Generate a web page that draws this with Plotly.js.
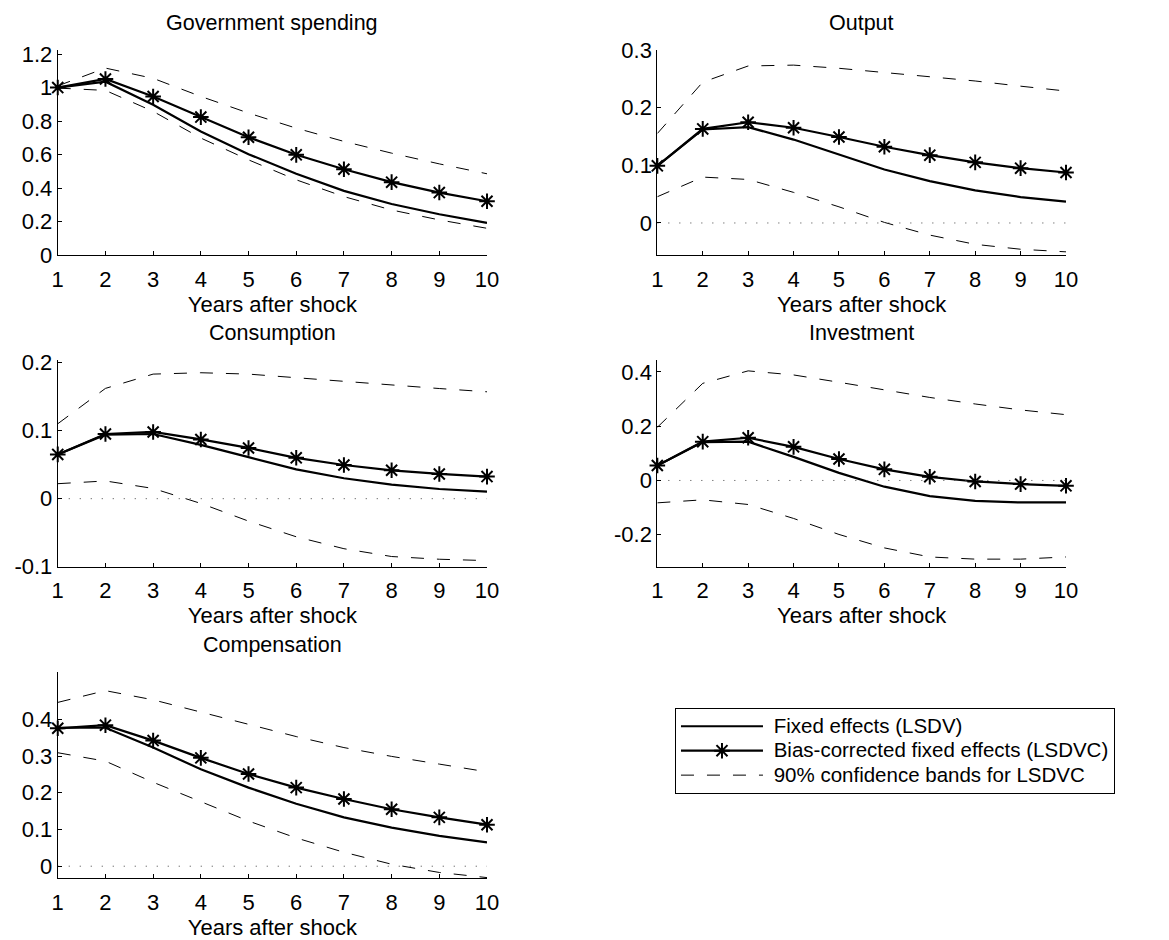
<!DOCTYPE html>
<html>
<head>
<meta charset="utf-8">
<script src="https://cdn.plot.ly/plotly-3.0.1.min.js"></script>
<style>
html,body{margin:0;padding:0;background:#fff;}
#chart{width:1169px;height:940px;}
</style>
</head>
<body>
<div id="chart"></div>
<script>
// ---- data ----
const years = [1, 2, 3, 4, 5, 6, 7, 8, 9, 10];
const panelTitles = ["Government spending", "Output", "Consumption", "Investment", "Compensation"];
const seriesNames = ["Fixed effects (LSDV)", "Bias-corrected fixed effects (LSDVC)", "90% confidence bands for LSDVC"];
const xTitle = "Years after shock";

const govLSDV  = [1.0, 1.035, 0.897, 0.738, 0.603, 0.486, 0.384, 0.306, 0.245, 0.193];
const govLSDVC = [1.0, 1.051, 0.947, 0.824, 0.704, 0.599, 0.513, 0.436, 0.374, 0.322];
const govUpper = [1.01, 1.116, 1.055, 0.947, 0.848, 0.758, 0.679, 0.609, 0.545, 0.486];
const govLower = [0.997, 0.983, 0.858, 0.699, 0.569, 0.45, 0.35, 0.27, 0.211, 0.161];

const outLSDV  = [0.099, 0.162, 0.166, 0.1445, 0.1186, 0.0927, 0.0726, 0.0564, 0.0449, 0.0369];
const outLSDVC = [0.099, 0.163, 0.1745, 0.165, 0.149, 0.132, 0.1175, 0.105, 0.095, 0.0875];
const outUpper = [0.155, 0.244, 0.272, 0.2735, 0.268, 0.261, 0.254, 0.246, 0.237, 0.2286];
const outLower = [0.0455, 0.0795, 0.0754, 0.053, 0.028, 0.001, -0.021, -0.037, -0.0455, -0.050];

const conLSDV  = [0.065, 0.094, 0.095, 0.079, 0.061, 0.043, 0.030, 0.0206, 0.0142, 0.0103];
const conLSDVC = [0.065, 0.095, 0.098, 0.087, 0.0745, 0.060, 0.0495, 0.0417, 0.0363, 0.0324];
const conUpper = [0.11, 0.162, 0.183, 0.185, 0.183, 0.1775, 0.1725, 0.1667, 0.1618, 0.157];
const conLower = [0.022, 0.026, 0.015, -0.007, -0.033, -0.056, -0.0735, -0.085, -0.089, -0.091];

const invLSDV  = [0.055, 0.1415, 0.143, 0.087, 0.028, -0.023, -0.058, -0.075, -0.081, -0.081];
const invLSDVC = [0.055, 0.143, 0.1575, 0.124, 0.079, 0.041, 0.0135, -0.0037, -0.0135, -0.0197];
const invUpper = [0.196, 0.358, 0.404, 0.389, 0.362, 0.3335, 0.306, 0.282, 0.260, 0.2425];
const invLower = [-0.0825, -0.0714, -0.0886, -0.140, -0.199, -0.2486, -0.282, -0.290, -0.290, -0.282];

const compLSDV  = [0.377, 0.377, 0.323, 0.264, 0.214, 0.170, 0.133, 0.105, 0.0825, 0.065];
const compLSDVC = [0.3755, 0.384, 0.342, 0.295, 0.251, 0.214, 0.183, 0.155, 0.133, 0.113];
const compUpper = [0.446, 0.478, 0.453, 0.419, 0.385, 0.353, 0.323, 0.299, 0.278, 0.257];
const compLower = [0.309, 0.286, 0.2286, 0.176, 0.123, 0.077, 0.038, 0.0054, -0.017, -0.031];

const zeroLine = [0, 0];
const zeroLineX = [1, 10];

// y ranges and tick labels
const govRange  = [0, 1.225];
const outRange  = [-0.056, 0.3];
const conRange  = [-0.1, 0.203];
const invRange  = [-0.318, 0.444];
const compRange = [-0.033, 0.528];

const govTicks  = [0, 0.2, 0.4, 0.6, 0.8, 1, 1.2];
const govTickText = ["0", "0.2", "0.4", "0.6", "0.8", "1", "1.2"];
const outTicks  = [0, 0.1, 0.2, 0.3];
const outTickText = ["0", "0.1", "0.2", "0.3"];
const conTicks  = [-0.1, 0, 0.1, 0.2];
const conTickText = ["-0.1", "0", "0.1", "0.2"];
const invTicks  = [-0.2, 0, 0.2, 0.4];
const invTickText = ["-0.2", "0", "0.2", "0.4"];
const compTicks = [0, 0.1, 0.2, 0.3, 0.4];
const compTickText = ["0", "0.1", "0.2", "0.3", "0.4"];
const xTicks = years;
const xTickText = ["1","2","3","4","5","6","7","8","9","10"];

// ---- build ----
const FONT = "Liberation Sans, Arial, Helvetica, sans-serif";
const FS = 22;
const TFS = 21.5;
const LFS = 20.5;
const panels = [
  {lsdv: govLSDV, lsdvc: govLSDVC, up: govUpper, lo: govLower, range: govRange, ticks: govTicks, tt: govTickText, zero: false},
  {lsdv: outLSDV, lsdvc: outLSDVC, up: outUpper, lo: outLower, range: outRange, ticks: outTicks, tt: outTickText, zero: true},
  {lsdv: conLSDV, lsdvc: conLSDVC, up: conUpper, lo: conLower, range: conRange, ticks: conTicks, tt: conTickText, zero: true},
  {lsdv: invLSDV, lsdvc: invLSDVC, up: invUpper, lo: invLower, range: invRange, ticks: invTicks, tt: invTickText, zero: true},
  {lsdv: compLSDV, lsdvc: compLSDVC, up: compUpper, lo: compLower, range: compRange, ticks: compTicks, tt: compTickText, zero: true}
];
const xDomains = [[0.0494, 0.4166], [0.5623, 0.9119], [0.0494, 0.4166], [0.5623, 0.9119], [0.0494, 0.4166]];
const yDomains = [[0.7284, 0.9470], [0.7284, 0.9470], [0.3971, 0.6165], [0.3971, 0.6170], [0.0656, 0.2848]];

const legendLabel = s => '<span style="font-size:' + LFS + 'px"> ' + s + '</span>';

const traces = [];
const layout = {
  width: 1169, height: 940,
  margin: {l: 0, r: 0, t: 0, b: 0},
  paper_bgcolor: "#fff", plot_bgcolor: "#fff",
  font: {family: FONT, size: FS, color: "#000"},
  showlegend: true,
  legend: {
    x: 0.5774, y: 0.2468, xanchor: "left", yanchor: "top",
    bordercolor: "#000", borderwidth: 1, bgcolor: "#fff",
    font: {family: FONT, size: 16.5, color: "#000"},
    itemwidth: 82, tracegroupgap: 0, traceorder: "normal"
  },
  annotations: []
};

panels.forEach((p, i) => {
  const n = i + 1;
  const xa = n === 1 ? "x" : "x" + n;
  const ya = n === 1 ? "y" : "y" + n;
  const show = i === 0;
  traces.push({x: years, y: p.lsdv, xaxis: xa, yaxis: ya, type: "scatter", mode: "lines",
    name: legendLabel(seriesNames[0]), showlegend: show, cliponaxis: false,
    line: {color: "#000", width: 2.2}});
  traces.push({x: years, y: p.lsdvc, xaxis: xa, yaxis: ya, type: "scatter", mode: "lines+markers",
    name: legendLabel(seriesNames[1]), showlegend: show, cliponaxis: false,
    line: {color: "#000", width: 2.2},
    marker: {symbol: "asterisk-open", size: 13, color: "#000", line: {color: "#000", width: 2}}});
  traces.push({x: years, y: p.up, xaxis: xa, yaxis: ya, type: "scatter", mode: "lines",
    name: legendLabel(seriesNames[2]), showlegend: show, cliponaxis: false,
    line: {color: "#000", width: 1, dash: "13px,13px"}});
  traces.push({x: years, y: p.lo, xaxis: xa, yaxis: ya, type: "scatter", mode: "lines",
    name: legendLabel(seriesNames[2]), showlegend: false, cliponaxis: false,
    line: {color: "#000", width: 1, dash: "13px,13px"}});
  if (p.zero) {
    traces.push({x: zeroLineX, y: zeroLine, xaxis: xa, yaxis: ya, type: "scatter", mode: "lines",
      showlegend: false, hoverinfo: "skip", cliponaxis: false,
      line: {color: "#444", width: 1, dash: "1px,10px"}});
  }
  const axCommon = {showline: true, linecolor: "#000", linewidth: 1, showgrid: false, zeroline: false,
    ticks: "inside", ticklen: 4, tickwidth: 1, tickcolor: "#000",
    tickfont: {family: FONT, size: FS, color: "#000"}};
  layout["xaxis" + (n === 1 ? "" : n)] = Object.assign({}, axCommon, {
    domain: xDomains[i], anchor: ya, range: [1, 10],
    tickmode: "array", tickvals: xTicks, ticktext: xTickText, ticklabelstandoff: 4,
    title: {text: xTitle, font: {family: FONT, size: FS, color: "#000"}, standoff: 3}
  });
  layout["yaxis" + (n === 1 ? "" : n)] = Object.assign({}, axCommon, {
    domain: yDomains[i], anchor: xa, range: p.range,
    tickmode: "array", tickvals: p.ticks, ticktext: p.tt
  });
  layout.annotations.push({
    text: panelTitles[i], xref: xa + " domain", yref: ya + " domain",
    x: 0.5, y: 1, xanchor: "center", yanchor: "bottom", yshift: 13, showarrow: false,
    font: {family: FONT, size: TFS, color: "#000"}
  });
});

Plotly.newPlot("chart", traces, layout, {staticPlot: true, displayModeBar: false});
</script>
</body>
</html>
